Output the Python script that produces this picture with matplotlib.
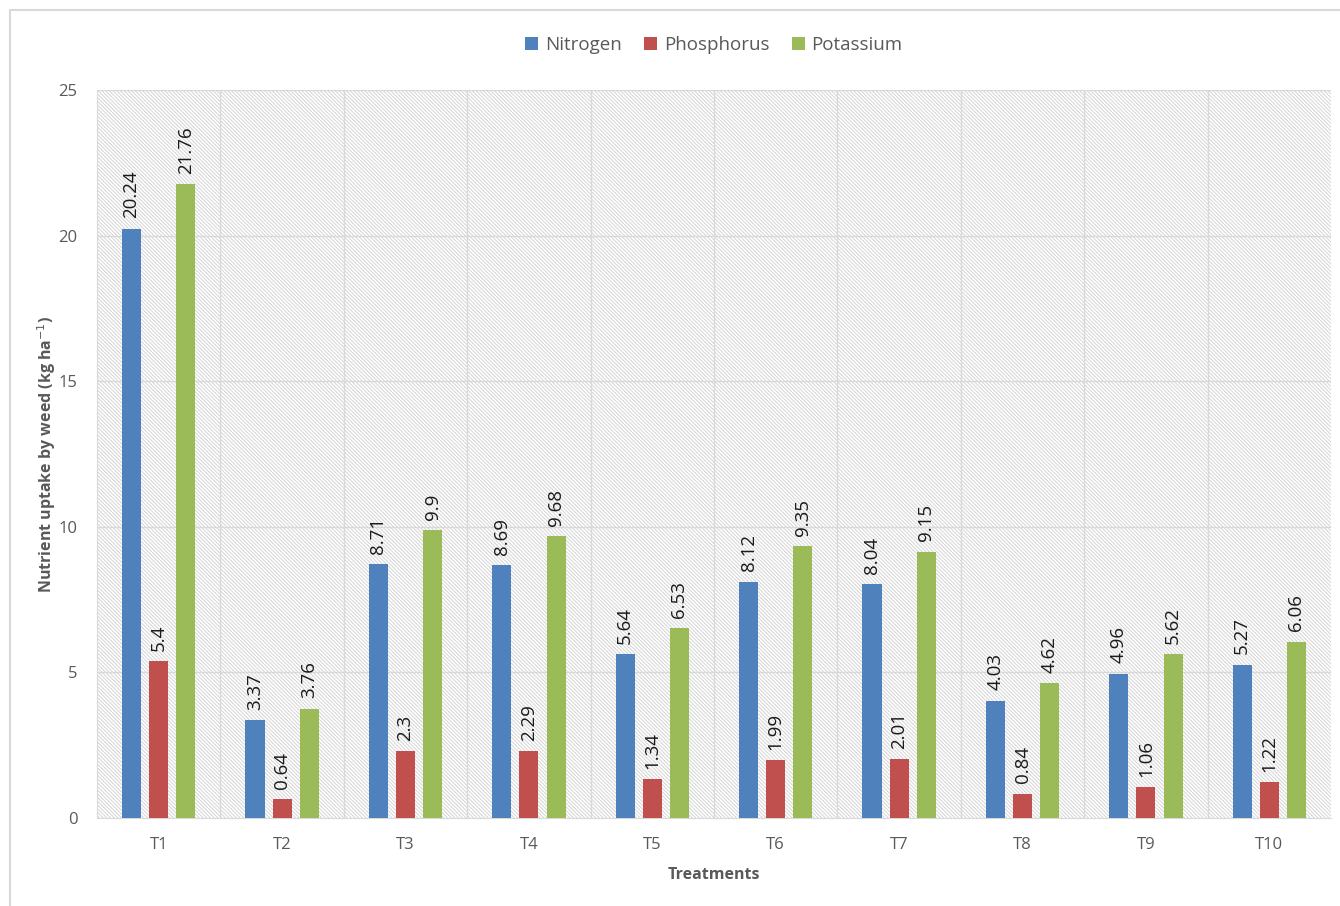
import matplotlib
matplotlib.use("Agg")
from matplotlib import pyplot as plt
from matplotlib.patches import Rectangle
import numpy as np

treatments = ["T1", "T2", "T3", "T4", "T5", "T6", "T7", "T8", "T9", "T10"]
nitrogen = [20.24, 3.37, 8.71, 8.69, 5.64, 8.12, 8.04, 4.03, 4.96, 5.27]
phosphorus = [5.4, 0.64, 2.3, 2.29, 1.34, 1.99, 2.01, 0.84, 1.06, 1.22]
potassium = [21.76, 3.76, 9.9, 9.68, 6.53, 9.35, 9.15, 4.62, 5.62, 6.06]

series = [
    ("Nitrogen", nitrogen, "#4f81bd"),
    ("Phosphorus", phosphorus, "#c0504d"),
    ("Potassium", potassium, "#9bbb59"),
]

plt.rcParams["font.family"] = ["Open Sans", "DejaVu Sans"]
plt.rcParams["hatch.linewidth"] = 0.7

fig = plt.figure(figsize=(13.4, 9.06), dpi=100)
fig.patches.append(
    Rectangle((0.0075, -0.01), 1.0, 0.9985, transform=fig.transFigure,
              fill=False, edgecolor="#d9d9d9", linewidth=1.5)
)
ax = fig.add_axes([0.0724, 0.0971, 0.9209, 0.8036])

# hatched plot background
ax.add_patch(Rectangle((0, 0), 1, 1, transform=ax.transAxes, facecolor="white",
                       edgecolor="#d4d4d4", hatch="\\" * 9, linewidth=0,
                       zorder=0))

x = np.arange(len(treatments))
width = 0.155
step = 0.22
for i, (name, vals, color) in enumerate(series):
    pos = x + (i - 1) * step
    ax.bar(pos, vals, width, color=color, label=name, zorder=3)
    for xp, v in zip(pos, vals):
        ax.text(xp, v + 0.35, f"{v:g}", rotation=90, ha="center", va="bottom",
                fontsize=13.5, color="#1a1a1a", zorder=4)

ax.set_xlim(-0.5, len(treatments) - 0.5)
ax.set_ylim(0, 25)
ax.set_yticks(range(0, 26, 5))
ax.set_xticks(x)
ax.set_xticklabels(treatments)

# gridlines between treatment groups and at y ticks
for b in np.arange(0.5, len(treatments) - 0.5, 1):
    ax.axvline(b, color="#d9d9d9", linewidth=1, zorder=1)
for yv in range(5, 26, 5):
    ax.axhline(yv, color="#d9d9d9", linewidth=1, zorder=1)

for side in ["top", "right"]:
    ax.spines[side].set_visible(False)
ax.spines["left"].set_color("#d9d9d9")
ax.spines["bottom"].set_color("#d9d9d9")
ax.spines["left"].set_zorder(1)
ax.tick_params(axis="both", length=0, colors="#595959", labelsize=12)
ax.tick_params(axis="x", pad=14)
ax.tick_params(axis="y", pad=14)

ax.set_xlabel("Treatments", fontsize=11.5, fontweight="bold", color="#595959",
              labelpad=10)
ax.set_ylabel("Nutrient uptake by weed (kg ha$^{-1}$)", fontsize=11.5,
              fontweight="bold", color="#595959", labelpad=0)

ax.legend(loc="center", bbox_to_anchor=(0.5, 1.062), ncol=3, frameon=False,
          fontsize=13.5, handlelength=0.7, handleheight=0.7, handletextpad=0.35,
          columnspacing=1.2, labelcolor="#595959")

fig.savefig("out.png", dpi=100)
